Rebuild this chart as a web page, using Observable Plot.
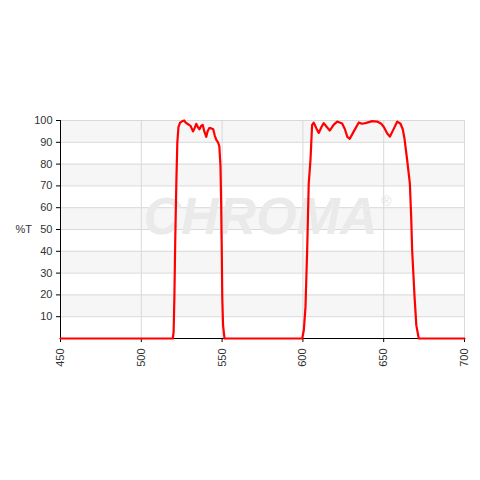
<!DOCTYPE html>
<html><head><meta charset="utf-8">
<script src="https://cdn.jsdelivr.net/npm/d3@7"></script>
<script src="https://cdn.jsdelivr.net/npm/@observablehq/plot@0.6"></script>
<style>body{margin:0;background:#fff;} #c{position:absolute;left:0;top:0;}</style>
</head><body><div id="c"></div>
<script>
const wavelength = [450,519.5,520,520.5,521,521.7,522.3,523,524,525,526.5,527.5,528.5,529.5,530.5,532,533,534,535,536,537,538,539,540.2,541,542,543,544.5,545.5,546.5,547.5,548.3,549,549.4,549.8,550.1,550.6,551.5,
  599.6,600.6,601.6,602.7,603.6,604.7,605.7,606.7,608.3,609.8,611.5,612.9,614.8,616.6,619,621.2,624.3,626,627.5,629,631.5,634.6,636.5,638.7,642.9,646,648.5,650.1,652.2,653.8,655.9,658.4,660.4,661.8,662.8,664.5,666.2,667,667.6,669.1,670.2,671.7,700];
const transmission = [0,0,3,20,45,72,90,97,99,99.5,100,99,98.5,98,97.5,95,96.5,98.5,97,96,97.5,98,95,92.5,95,96.5,96.5,96,93,91,90,88,79,63,40,19,6,0,
  0,4,14.5,42,71,82,98,99,96.5,94.3,97,98.8,97,95.4,98,99.5,98.6,96,92.5,91.6,95,99.1,98.5,98.8,99.7,99.5,98.5,97,94,92.6,95.7,99.5,98.5,96,92,82,71,56,40.6,19,6,0,0];
const yTicks = [10,20,30,40,50,60,70,80,90,100];
const xTicks = [450,500,550,600,650,700];
const bandLows = [90,70,50,30,10];

const data = wavelength.map((w,i)=>({w, t: transmission[i]}));
const bands = bandLows.map(b=>({y1:b, y2:b+10}));

const chart = Plot.plot({
  width: 480, height: 480,
  marginLeft: 60, marginRight: 16, marginTop: 120, marginBottom: 142,
  style: {fontFamily: "'Liberation Sans', Arial, sans-serif", fontSize: "11px", color: "#333", background: "#fff"},
  x: {domain: [450,700], ticks: xTicks, tickRotate: -90, tickSize: 4, tickPadding: 6, label: null},
  y: {domain: [0,100], ticks: yTicks, tickSize: 4, tickPadding: 4, label: null},
  marks: [
    Plot.rectY(bands, {x1: 450, x2: 700, y1: "y1", y2: "y2", fill: "#f6f6f6"}),
    Plot.gridY(yTicks, {stroke: "#d9d9d9", strokeOpacity: 1}),
    Plot.gridX(xTicks, {stroke: "#d9d9d9", strokeOpacity: 1}),
    Plot.text(["CHROMA"], {frameAnchor: "middle", dx: -2, dy: -12, fontSize: 52, fontWeight: "bold", fontStyle: "italic", fill: "#eaeaea", fontFamily: "'Liberation Sans', Arial, sans-serif"}),
    Plot.text(["®"], {frameAnchor: "middle", dx: 124, dy: -28, fontSize: 14, fill: "#e4e4e4"}),
    Plot.axisY(yTicks, {tickSize: 4, tickPadding: 4, stroke: "#000", fill: "#333", fontSize: 11}),
    Plot.axisX(xTicks, {tickSize: 4, tickPadding: 6, tickRotate: -90, stroke: "#000", fill: "#333", fontSize: 11}),
    Plot.ruleX([450], {stroke: "#000"}),
    Plot.ruleY([0], {stroke: "#000"}),
    Plot.line(data, {x: "w", y: "t", stroke: "#ff0000", strokeWidth: 2.2, curve: "linear"}),
    Plot.text(["%T"], {x: 450, y: 50, dx: -45, textAnchor: "start", fill: "#333", fontSize: 11})
  ]
});
document.getElementById("c").appendChild(chart);
</script></body></html>
